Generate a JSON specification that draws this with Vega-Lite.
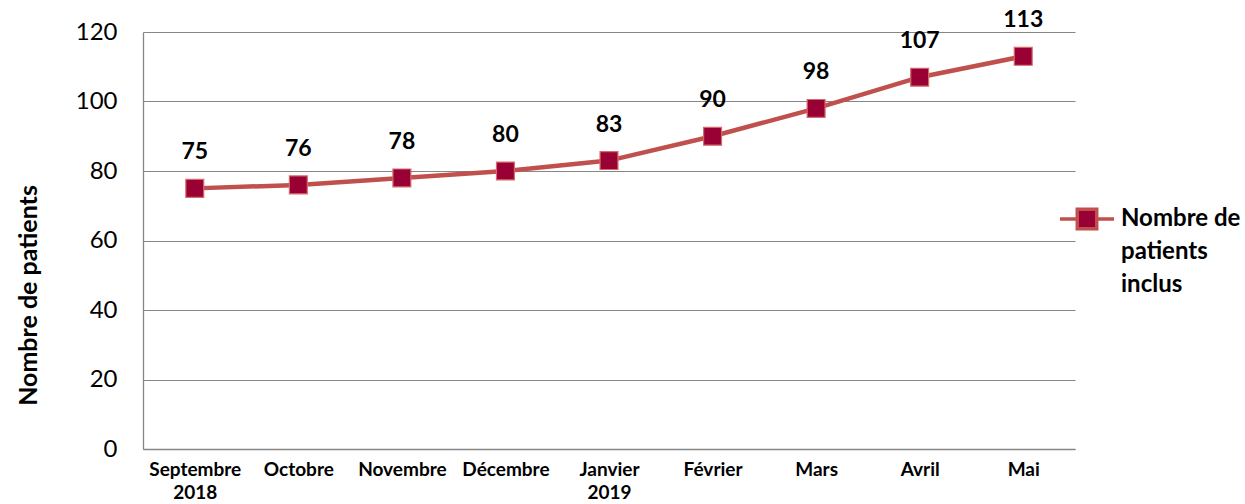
{
  "$schema": "https://vega.github.io/schema/vega-lite/v6.json",
  "width": 932,
  "height": 417,
  "autosize": {"type": "none"},
  "padding": {"left": 143, "top": 32, "right": 170, "bottom": 55},
  "background": "white",
  "config": {
    "font": "Lato",
    "view": {"stroke": null},
    "axis": {"labelColor": "#000000", "titleColor": "#000000", "labelFont": "Lato", "titleFont": "Lato"}
  },
  "data": {
    "values": [
      {"month": "Septembre|2018", "idx": 1, "value": 75, "series": "Nombre de patients inclus"},
      {"month": "Octobre", "idx": 2, "value": 76, "series": "Nombre de patients inclus"},
      {"month": "Novembre", "idx": 3, "value": 78, "series": "Nombre de patients inclus"},
      {"month": "Décembre", "idx": 4, "value": 80, "series": "Nombre de patients inclus"},
      {"month": "Janvier|2019", "idx": 5, "value": 83, "series": "Nombre de patients inclus"},
      {"month": "Février", "idx": 6, "value": 90, "series": "Nombre de patients inclus"},
      {"month": "Mars", "idx": 7, "value": 98, "series": "Nombre de patients inclus"},
      {"month": "Avril", "idx": 8, "value": 107, "series": "Nombre de patients inclus"},
      {"month": "Mai", "idx": 9, "value": 113, "series": "Nombre de patients inclus"}
    ]
  },
  "encoding": {
    "x": {
      "field": "month",
      "type": "ordinal",
      "sort": {"field": "idx"},
      "scale": {"type": "point", "padding": 0.5},
      "axis": {
        "title": null,
        "labelAngle": 0,
        "labelExpr": "split(datum.value, '|')",
        "labelFontSize": 19,
        "labelFontWeight": "bold",
        "labelLineHeight": 23,
        "labelBaseline": "top",
        "labelPadding": 11,
        "labelOverlap": false,
        "ticks": false,
        "domainColor": "#868686",
        "domainWidth": 1.3,
        "grid": false
      }
    },
    "y": {
      "field": "value",
      "type": "quantitative",
      "scale": {"domain": [0, 120], "nice": false},
      "axis": {
        "values": [0, 20, 40, 60, 80, 100, 120],
        "title": "Nombre de patients",
        "titleFontSize": 25,
        "titleFontWeight": "bold",
        "titleX": -115,
        "titleY": 263,
        "titleAngle": -90,
        "titleAlign": "center",
        "titleBaseline": "middle",
        "labelFontSize": 24,
        "labelPadding": 26,
        "ticks": false,
        "domainColor": "#868686",
        "domainWidth": 1.3,
        "grid": true,
        "gridColor": "#868686",
        "gridWidth": 1.2
      }
    }
  },
  "layer": [
    {
      "mark": {"type": "line", "strokeWidth": 4.5, "color": "#C0504D"},
      "encoding": {
        "color": {
          "field": "series",
          "type": "nominal",
          "scale": {"range": ["#C0504D"]},
          "legend": {
            "title": null,
            "orient": "none",
            "legendX": 915,
            "legendY": 158,
            "padding": 0,
            "symbolType": "M-1,0H-0.36M0.36,0H1M-0.36,-0.36H0.36V0.36H-0.36Z",
            "symbolSize": 2916,
            "symbolStrokeWidth": 3.5,
            "symbolStrokeColor": "#C0504D",
            "symbolFillColor": "#990033",
            "symbolOpacity": 1,
            "labelExpr": "['Nombre de', 'patients', 'inclus']",
            "labelFontSize": 24,
            "labelFontWeight": "bold",
            "labelColor": "#000000",
            "labelOffset": 5,
            "labelLimit": 200,
            "encode": {"labels": {"update": {"lineHeight": {"value": 33}}}}
          }
        }
      }
    },
    {
      "mark": {"type": "point", "shape": "square", "filled": true, "size": 320, "fill": "#990033", "stroke": "#D46A6A", "strokeWidth": 1.2, "opacity": 1}
    },
    {
      "mark": {"type": "text", "fontSize": 23, "fontWeight": "bold", "color": "#000000", "baseline": "middle", "dy": -36},
      "encoding": {"text": {"field": "value", "type": "quantitative"}}
    }
  ]
}
